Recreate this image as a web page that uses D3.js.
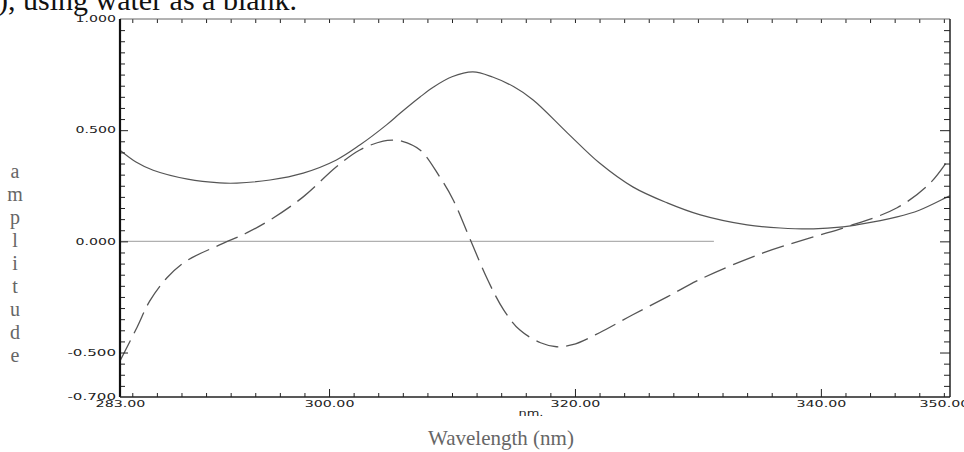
<!DOCTYPE html>
<html>
<head>
<meta charset="utf-8">
<script src="https://cdn.jsdelivr.net/npm/d3@7/dist/d3.min.js"></script>
<style>
  html, body { margin: 0; padding: 0; background: #fff; }
  svg { display: block; }
</style>
</head>
<body>
<svg id="chart" width="964" height="452"></svg>
<script>
// ---- data ----
const solidWavelength = [283.0, 284.3, 285.7, 288.5, 291.1, 292.5, 295.2, 297.9, 300.6, 302.5, 304.7, 305.8, 307.4, 308.5, 310.0, 311.7, 313.3, 315.0, 316.6, 319.4, 322.0, 324.7, 327.5, 330.2, 334.0, 336.7, 339.4, 341.8, 342.9, 346.2, 348.0, 350.3, 350.5];
const solidAmplitude  = [0.41, 0.357, 0.32, 0.28, 0.263, 0.262, 0.276, 0.307, 0.366, 0.433, 0.525, 0.577, 0.649, 0.694, 0.74, 0.762, 0.739, 0.696, 0.636, 0.487, 0.352, 0.245, 0.173, 0.119, 0.074, 0.060, 0.056, 0.065, 0.074, 0.110, 0.14, 0.20, 0.205];

const dashedWavelength = [283.0, 284.4, 285.4, 286.8, 288.4, 291.1, 293.3, 295.2, 297.9, 300.6, 302.5, 304.4, 305.2, 305.9, 307.4, 309.0, 310.1, 311.5, 312.9, 314.2, 315.5, 317.2, 318.5, 319.8, 322.0, 324.7, 327.5, 330.2, 335.3, 339.4, 342.1, 346.2, 348.9, 350.5];
const dashedAmplitude  = [-0.538, -0.385, -0.27, -0.165, -0.088, -0.016, 0.038, 0.096, 0.20, 0.335, 0.411, 0.451, 0.455, 0.451, 0.411, 0.29, 0.186, 0.006, -0.173, -0.308, -0.398, -0.456, -0.474, -0.465, -0.411, -0.33, -0.25, -0.17, -0.052, 0.02, 0.065, 0.151, 0.263, 0.379];

const baselineWavelength = [283.0, 331.3];
const baselineAmplitude = [0, 0];

const xTickLabels = [283, 300, 320, 340, 350];
const xMajorTicks = [300, 320, 340];
const xMinorTicks = d3.range(284, 351, 2).filter(d => !xMajorTicks.includes(d));
const yTickLabels = [1.0, 0.5, 0.0, -0.5, -0.7];
const yMajorTicks = [0.5, 0.0, -0.5];
const yMinorTicks = d3.range(-13, 20).map(k => +(k * 0.05).toFixed(2)).filter(d => !yMajorTicks.includes(d));

const topText = "), using water as a blank.";
const yTitle = "amplitude";
const xTitle = "Wavelength (nm)";
const unitText = "nm.";

// ---- layout ----
const svg = d3.select("#chart");
const L = 120, R = 950, T = 19, B = 397;
const x = d3.scaleLinear().domain([283, 350.5]).range([L, R]);
const y = d3.scaleLinear().domain([-0.7, 1.0]).range([B, T]);

// top caption (cut off by the page top)
svg.append("text")
  .attr("x", -2).attr("y", 10)
  .attr("font-family", "Liberation Serif, Times New Roman, serif")
  .attr("font-size", 30)
  .attr("fill", "#111")
  .text(topText);

// clip for curves
svg.append("clipPath").attr("id", "plotclip")
  .append("rect").attr("x", L).attr("y", T).attr("width", R - L).attr("height", B - T);

const g = svg.append("g");

const line = d3.line().x(d => x(d[0])).y(d => y(d[1])).curve(d3.curveCatmullRom.alpha(0.5));

// baseline at zero
g.append("path")
  .datum(d3.zip(baselineWavelength, baselineAmplitude))
  .attr("d", d3.line().x(d => x(d[0])).y(d => y(d[1])))
  .attr("fill", "none").attr("stroke", "#b0b0b0").attr("stroke-width", 1.1);

// curves
g.append("path")
  .datum(d3.zip(solidWavelength, solidAmplitude))
  .attr("clip-path", "url(#plotclip)")
  .attr("d", line)
  .attr("fill", "none").attr("stroke", "#555").attr("stroke-width", 1.2);

g.append("path")
  .datum(d3.zip(dashedWavelength, dashedAmplitude))
  .attr("clip-path", "url(#plotclip)")
  .attr("d", line)
  .attr("fill", "none").attr("stroke", "#555").attr("stroke-width", 1.3)
  .attr("stroke-dasharray", "23,8");

// inner ticks via axes
function tickAxis(axis, tx, ty) {
  const a = svg.append("g").attr("transform", `translate(${tx},${ty})`).call(axis);
  a.select(".domain").remove();
  a.selectAll("line").attr("stroke", "#222").attr("stroke-width", 1);
  a.selectAll("text").remove();
  return a;
}
// bottom (pointing up)
tickAxis(d3.axisTop(x).tickValues(xMinorTicks).tickSize(4), 0, B);
tickAxis(d3.axisTop(x).tickValues(xMajorTicks).tickSize(8), 0, B);
// top (pointing down)
tickAxis(d3.axisBottom(x).tickValues(xMinorTicks.concat(xMajorTicks)).tickSize(4), 0, T);
// left (pointing right)
tickAxis(d3.axisRight(y).tickValues(yMinorTicks).tickSize(5), L, 0);
tickAxis(d3.axisRight(y).tickValues(yMajorTicks).tickSize(8), L, 0);
// right (pointing left)
tickAxis(d3.axisLeft(y).tickValues(yMinorTicks).tickSize(6), R, 0);
tickAxis(d3.axisLeft(y).tickValues(yMajorTicks).tickSize(10), R, 0);

// frame
svg.append("line").attr("x1", L).attr("x2", R).attr("y1", T).attr("y2", T).attr("stroke", "#666").attr("stroke-width", 1);
svg.append("line").attr("x1", L).attr("x2", L).attr("y1", T).attr("y2", B).attr("stroke", "#111").attr("stroke-width", 2.2);
svg.append("line").attr("x1", L).attr("x2", R).attr("y1", B).attr("y2", B).attr("stroke", "#222").attr("stroke-width", 1.5);
svg.append("line").attr("x1", R).attr("x2", R).attr("y1", T).attr("y2", B).attr("stroke", "#222").attr("stroke-width", 1.5);

// tick labels
const labelFont = "DejaVu Sans, Liberation Sans, sans-serif";
const yl = svg.append("g").attr("transform", `translate(${L},0)`)
  .call(d3.axisLeft(y).tickValues(yTickLabels).tickSize(0).tickPadding(4).tickFormat(d => d.toFixed(3)));
yl.select(".domain").remove();
yl.selectAll("text")
  .attr("font-family", labelFont).attr("font-size", 8.5).attr("fill", "#222")
  .attr("textLength", function() { return this.textContent.length * 8.1; })
  .attr("lengthAdjust", "spacingAndGlyphs");

const xl = svg.append("g").attr("transform", `translate(0,${B})`)
  .call(d3.axisBottom(x).tickValues(xTickLabels).tickSize(0).tickPadding(4).tickFormat(d => d.toFixed(2)));
xl.select(".domain").remove();
xl.selectAll("text")
  .attr("font-family", labelFont).attr("font-size", 8.5).attr("fill", "#222")
  .attr("textLength", function() { return this.textContent.length * 8.3; })
  .attr("lengthAdjust", "spacingAndGlyphs");

svg.append("text")
  .attr("x", 531).attr("y", 416).attr("text-anchor", "middle")
  .attr("font-family", labelFont).attr("font-size", 8.5).attr("fill", "#222")
  .attr("textLength", 25).attr("lengthAdjust", "spacingAndGlyphs")
  .text(unitText);

// axis titles
const serif = "Liberation Serif, Times New Roman, serif";
const yt = svg.append("text")
  .attr("font-family", serif).attr("font-size", 20).attr("fill", "#666")
  .attr("text-anchor", "middle");
yt.selectAll("tspan").data(yTitle.split("")).join("tspan")
  .attr("x", 15).attr("y", (d, i) => 178 + i * 23).text(d => d);

svg.append("text")
  .attr("x", 501).attr("y", 445).attr("text-anchor", "middle")
  .attr("font-family", serif).attr("font-size", 21).attr("fill", "#666")
  .text(xTitle);
</script>
</body>
</html>
